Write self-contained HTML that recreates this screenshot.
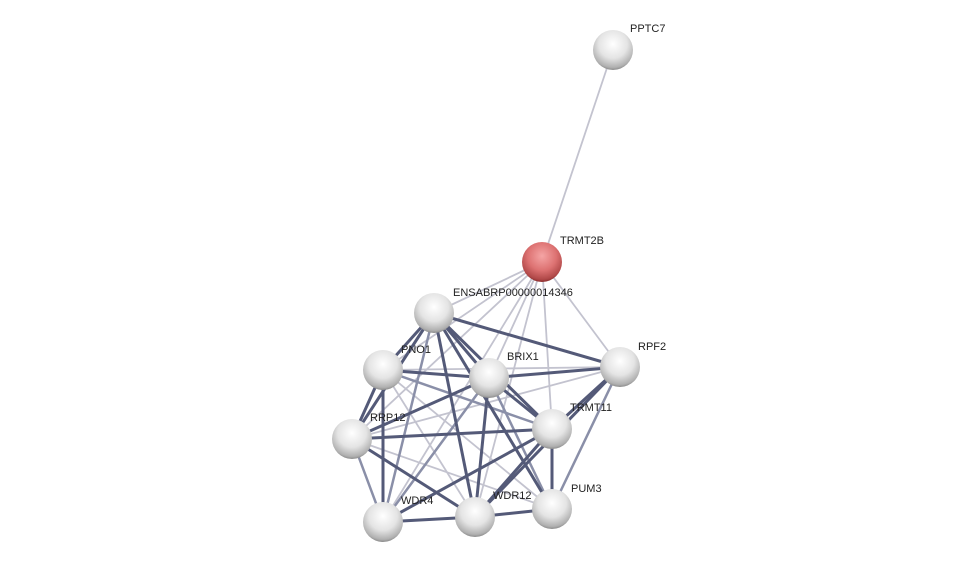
<!DOCTYPE html>
<html><head><style>
html,body{margin:0;padding:0;background:#fff;width:976px;height:567px;overflow:hidden}
text{font-family:"Liberation Sans",sans-serif;font-size:11px;fill:#222}
</style></head><body>
<svg width="976" height="567" xmlns="http://www.w3.org/2000/svg">
<defs>
<radialGradient id="g" cx="50%" cy="35%" r="65%">
<stop offset="0" stop-color="#ffffff"/><stop offset="0.55" stop-color="#e4e4e4"/><stop offset="0.9" stop-color="#b0b0b0"/><stop offset="1" stop-color="#8c8c8c"/></radialGradient>
<radialGradient id="r" cx="50%" cy="35%" r="65%">
<stop offset="0" stop-color="#f5a5a5"/><stop offset="0.55" stop-color="#dd7272"/><stop offset="0.9" stop-color="#b04848"/><stop offset="1" stop-color="#8a2e2e"/></radialGradient>
</defs>
<g stroke-linecap="round">
<g stroke="#c3c3cf" stroke-width="1.8">
<line x1="613" y1="50" x2="542" y2="262"/>
<line x1="542" y1="262" x2="434" y2="313"/>
<line x1="542" y1="262" x2="383" y2="370"/>
<line x1="542" y1="262" x2="489" y2="378"/>
<line x1="542" y1="262" x2="620" y2="367"/>
<line x1="542" y1="262" x2="352" y2="439"/>
<line x1="542" y1="262" x2="552" y2="429"/>
<line x1="542" y1="262" x2="383" y2="522"/>
<line x1="542" y1="262" x2="475" y2="517"/>
<line x1="383" y1="370" x2="620" y2="367"/>
<line x1="352" y1="439" x2="620" y2="367"/>
<line x1="383" y1="370" x2="552" y2="509"/>
<line x1="383" y1="370" x2="475" y2="517"/>
<line x1="352" y1="439" x2="552" y2="509"/>
</g>
<g stroke="#8a8fa8" stroke-width="2.5">
<line x1="352" y1="439" x2="383" y2="522"/>
<line x1="434" y1="313" x2="383" y2="522"/>
<line x1="383" y1="370" x2="552" y2="429"/>
<line x1="489" y1="378" x2="552" y2="509"/>
<line x1="620" y1="367" x2="552" y2="509"/>
<line x1="489" y1="378" x2="383" y2="522"/>
</g>
<g stroke="#545a78" stroke-width="3">
<line x1="434" y1="313" x2="383" y2="370"/>
<line x1="434" y1="313" x2="489" y2="378"/>
<line x1="434" y1="313" x2="620" y2="367"/>
<line x1="434" y1="313" x2="352" y2="439"/>
<line x1="434" y1="313" x2="552" y2="429"/>
<line x1="434" y1="313" x2="475" y2="517"/>
<line x1="434" y1="313" x2="552" y2="509"/>
<line x1="383" y1="370" x2="489" y2="378"/>
<line x1="383" y1="370" x2="352" y2="439"/>
<line x1="383" y1="370" x2="383" y2="522"/>
<line x1="489" y1="378" x2="620" y2="367"/>
<line x1="489" y1="378" x2="352" y2="439"/>
<line x1="489" y1="378" x2="552" y2="429"/>
<line x1="489" y1="378" x2="475" y2="517"/>
<line x1="620" y1="367" x2="552" y2="429"/>
<line x1="352" y1="439" x2="552" y2="429"/>
<line x1="352" y1="439" x2="475" y2="517"/>
<line x1="552" y1="429" x2="383" y2="522"/>
<line x1="552" y1="429" x2="475" y2="517"/>
<line x1="552" y1="429" x2="552" y2="509"/>
<line x1="383" y1="522" x2="475" y2="517"/>
<line x1="475" y1="517" x2="552" y2="509"/>
<line x1="620" y1="367" x2="475" y2="517"/>
</g>
</g>
<g>
<circle cx="613" cy="50" r="20" fill="url(#g)"/>
<circle cx="542" cy="262" r="20" fill="url(#r)"/>
<circle cx="434" cy="313" r="20" fill="url(#g)"/>
<circle cx="383" cy="370" r="20" fill="url(#g)"/>
<circle cx="489" cy="378" r="20" fill="url(#g)"/>
<circle cx="620" cy="367" r="20" fill="url(#g)"/>
<circle cx="352" cy="439" r="20" fill="url(#g)"/>
<circle cx="552" cy="429" r="20" fill="url(#g)"/>
<circle cx="383" cy="522" r="20" fill="url(#g)"/>
<circle cx="475" cy="517" r="20" fill="url(#g)"/>
<circle cx="552" cy="509" r="20" fill="url(#g)"/>
</g>
<text x="630" y="32">PPTC7</text>
<text x="560" y="244">TRMT2B</text>
<text x="453" y="296">ENSABRP00000014346</text>
<text x="401" y="353">PNO1</text>
<text x="507" y="360">BRIX1</text>
<text x="638" y="350">RPF2</text>
<text x="370" y="421">RRP12</text>
<text x="570" y="411">TRMT11</text>
<text x="401" y="504">WDR4</text>
<text x="493" y="499">WDR12</text>
<text x="571" y="492">PUM3</text>
</svg>
</body></html>
